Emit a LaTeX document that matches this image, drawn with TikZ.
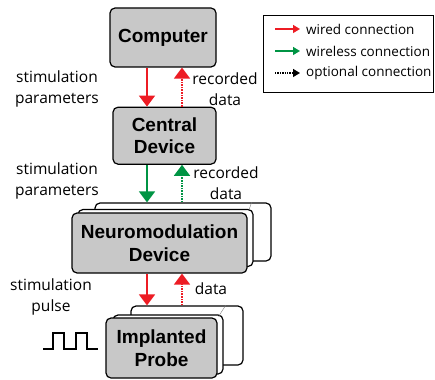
\documentclass[tikz,border=0pt]{standalone}
\usepackage{fontspec}
\setmainfont{Open Sans}
\newfontfamily\boxfont{Liberation Sans}
\usepackage{tikz}
\usetikzlibrary{positioning,arrows.meta}
\definecolor{wiredred}{RGB}{237,28,36}
\definecolor{wlgreen}{RGB}{0,148,68}
\definecolor{boxgray}{RGB}{200,200,200}
\tikzset{main node/.style={rectangle,rounded corners=5pt,fill=boxgray,draw,line width=1.2pt,
    inner sep=0pt,align=center,font=\boxfont\bfseries\fontsize{19}{22.5}\selectfont},
  back node/.style={rectangle,rounded corners=5pt,fill=white,draw,line width=1.2pt,inner sep=0pt},
  lbl/.style={align=center,inner sep=0pt,font=\fontsize{15.5}{21}\selectfont},
  leg/.style={anchor=west,inner sep=0pt,font=\fontsize{13.5}{15}\selectfont},
  wired/.style={wiredred,line width=1.6pt,-{Triangle[width=16pt,length=11pt]}},
  wireless/.style={wlgreen,line width=1.6pt,-{Triangle[width=16pt,length=11pt]}},
  optional/.style={densely dotted},
  small tip/.style={-{Triangle[width=8pt,length=7pt]},line width=1.4pt},
}

\begin{document}
\begin{tikzpicture}[x=1pt,y=-1pt]
	\useasboundingbox (0,0) rectangle (435,379);

	%% boxes
	\node[main node,minimum width=106pt,minimum height=59pt] (comp) at (163,37.5) {Computer};
	\node[main node,minimum width=103pt,minimum height=57pt] (cent) [below = 39pt of comp.south, anchor=north, xshift=1.5pt] {Central\\Device};

	\node[back node,minimum width=176pt,minimum height=58pt] (neuroC) at (183,232) {};
	\node[back node,minimum width=175pt,minimum height=57pt] (neuroB) at (165.5,238) {};
	\node[main node,minimum width=175pt,minimum height=60pt] (neuro) at (159.5,243) {Neuromodulation\\Device};
	\draw[gray,thin] ([xshift=-5pt,yshift=-2pt]neuroB.north east) -- ([xshift=-20pt]neuroC.north east);

	\node[back node,minimum width=112pt,minimum height=59pt] (probeC) at (187,335.5) {};
	\node[back node,minimum width=110pt,minimum height=59pt] (probeB) at (168,344.5) {};
	\node[main node,minimum width=111pt,minimum height=60pt] (probe) at (161.5,348) {Implanted\\Probe};
	\draw[gray,thin] ([xshift=-5pt,yshift=-2pt]probeB.north east) -- ([xshift=-18pt]probeC.north east);

	%% columns of the arrows
	\coordinate (dn) at (147,0);
	\coordinate (up) at (182,0);

	%% connections
	\draw[wired] (comp.south -| dn) -- (cent.north -| dn);
	\draw[wired,optional] (cent.north -| up) -- (comp.south -| up);
	\draw[wireless] (cent.south -| dn) -- (neuroC.north -| dn);
	\draw[wireless,optional] (neuroC.north -| up) -- (cent.south -| up);
	\draw[wired] (neuro.south -| dn) -- (probeC.north -| dn);
	\draw[wired,optional] (probeC.north -| up) -- (neuro.south -| up);

	%% labels
	\node[lbl] (stim1) at (57,89) {stimulation\\parameters};
	\node[lbl] (rec1) at (225,89) {recorded\\data};
	\node[lbl] (stim2) at (57,181) {stimulation\\parameters};
	\node[lbl] (rec2) at (226,183) {recorded\\data};
	\node[lbl] (stim3) at (51,297) {stimulation\\pulse};
	\node[lbl] (dat3) at (211,289) {data};

	%% pulse
	\draw[line width=1.2pt] (43,349) -- (53,349) -- (53,333) -- (64,333) -- (64,349) -- (76,349)
		-- (76,333) -- (87,333) -- (87,349) -- (98,349);

	%% legend
	\node[draw,line width=0.9pt,minimum width=170pt,minimum height=77pt,inner sep=0pt] (legend) at (348,53.5) {};
	\node[leg] (lw) at (306,29) {wired connection};
	\node[leg] (lwl) at (306,51) {wireless connection};
	\node[leg] (lo) at (306,73) {optional connection};
	\draw[wiredred,small tip] ([xshift=-31pt]lw.west) -- ([xshift=-6pt]lw.west);
	\draw[wlgreen,small tip] ([xshift=-31pt]lwl.west) -- ([xshift=-6pt]lwl.west);
	\draw[black,small tip,optional] ([xshift=-31pt]lo.west) -- ([xshift=-6pt]lo.west);
\end{tikzpicture}
\end{document}
